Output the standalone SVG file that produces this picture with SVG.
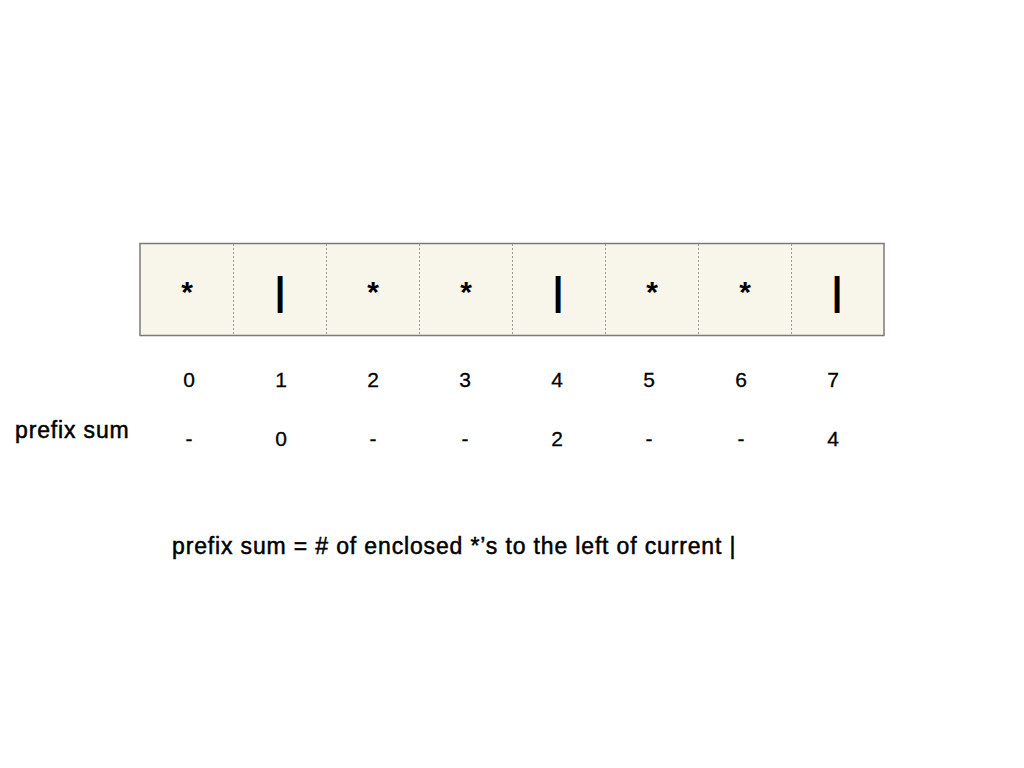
<svg xmlns="http://www.w3.org/2000/svg" width="1024" height="768" viewBox="0 0 1024 768">
<style>
text{font-family:"Liberation Sans",Arial,sans-serif;fill:#000}
.sym{font-size:30px;text-anchor:middle;font-weight:bold}
.bar{font-size:38px;text-anchor:middle;font-weight:bold}
.num{font-size:21px;text-anchor:middle;stroke:#000;stroke-width:0.3}
.lbl{font-size:23px;stroke:#000;stroke-width:0.5;letter-spacing:0.85px}
.div{stroke:#9a9a9a;stroke-width:1;stroke-dasharray:2,2}
</style>
<rect width="1024" height="768" fill="#fff"/>
<g id="array">
<rect x="140" y="243.5" width="744" height="92" fill="#f8f6ea" stroke="#7a7a7a" stroke-width="1.5"/>
<line class="div" x1="233.5" y1="244" x2="233.5" y2="335"/>
<line class="div" x1="326.5" y1="244" x2="326.5" y2="335"/>
<line class="div" x1="419.5" y1="244" x2="419.5" y2="335"/>
<line class="div" x1="512.5" y1="244" x2="512.5" y2="335"/>
<line class="div" x1="605.5" y1="244" x2="605.5" y2="335"/>
<line class="div" x1="698.5" y1="244" x2="698.5" y2="335"/>
<line class="div" x1="791.5" y1="244" x2="791.5" y2="335"/>
</g>
<g id="cells">
<text class="sym" x="187" y="302">*</text>
<text class="bar" x="280" y="304">|</text>
<text class="sym" x="373" y="302">*</text>
<text class="sym" x="466" y="302">*</text>
<text class="bar" x="558" y="304">|</text>
<text class="sym" x="652" y="302">*</text>
<text class="sym" x="745" y="302">*</text>
<text class="bar" x="837" y="304">|</text>
</g>
<g id="indices">
<text class="num" x="189" y="387">0</text>
<text class="num" x="281" y="387">1</text>
<text class="num" x="373" y="387">2</text>
<text class="num" x="465" y="387">3</text>
<text class="num" x="557" y="387">4</text>
<text class="num" x="649" y="387">5</text>
<text class="num" x="741" y="387">6</text>
<text class="num" x="833" y="387">7</text>
</g>
<g id="prefix">
<text class="lbl" x="15" y="438">prefix sum</text>
<text class="num" x="189" y="446">-</text>
<text class="num" x="281" y="446">0</text>
<text class="num" x="373" y="446">-</text>
<text class="num" x="465" y="446">-</text>
<text class="num" x="557" y="446">2</text>
<text class="num" x="649" y="446">-</text>
<text class="num" x="741" y="446">-</text>
<text class="num" x="833" y="446">4</text>
</g>
<g id="caption">
<text class="lbl" x="172" y="554">prefix sum = # of enclosed *’s to the left of current |</text>
</g>
</svg>
